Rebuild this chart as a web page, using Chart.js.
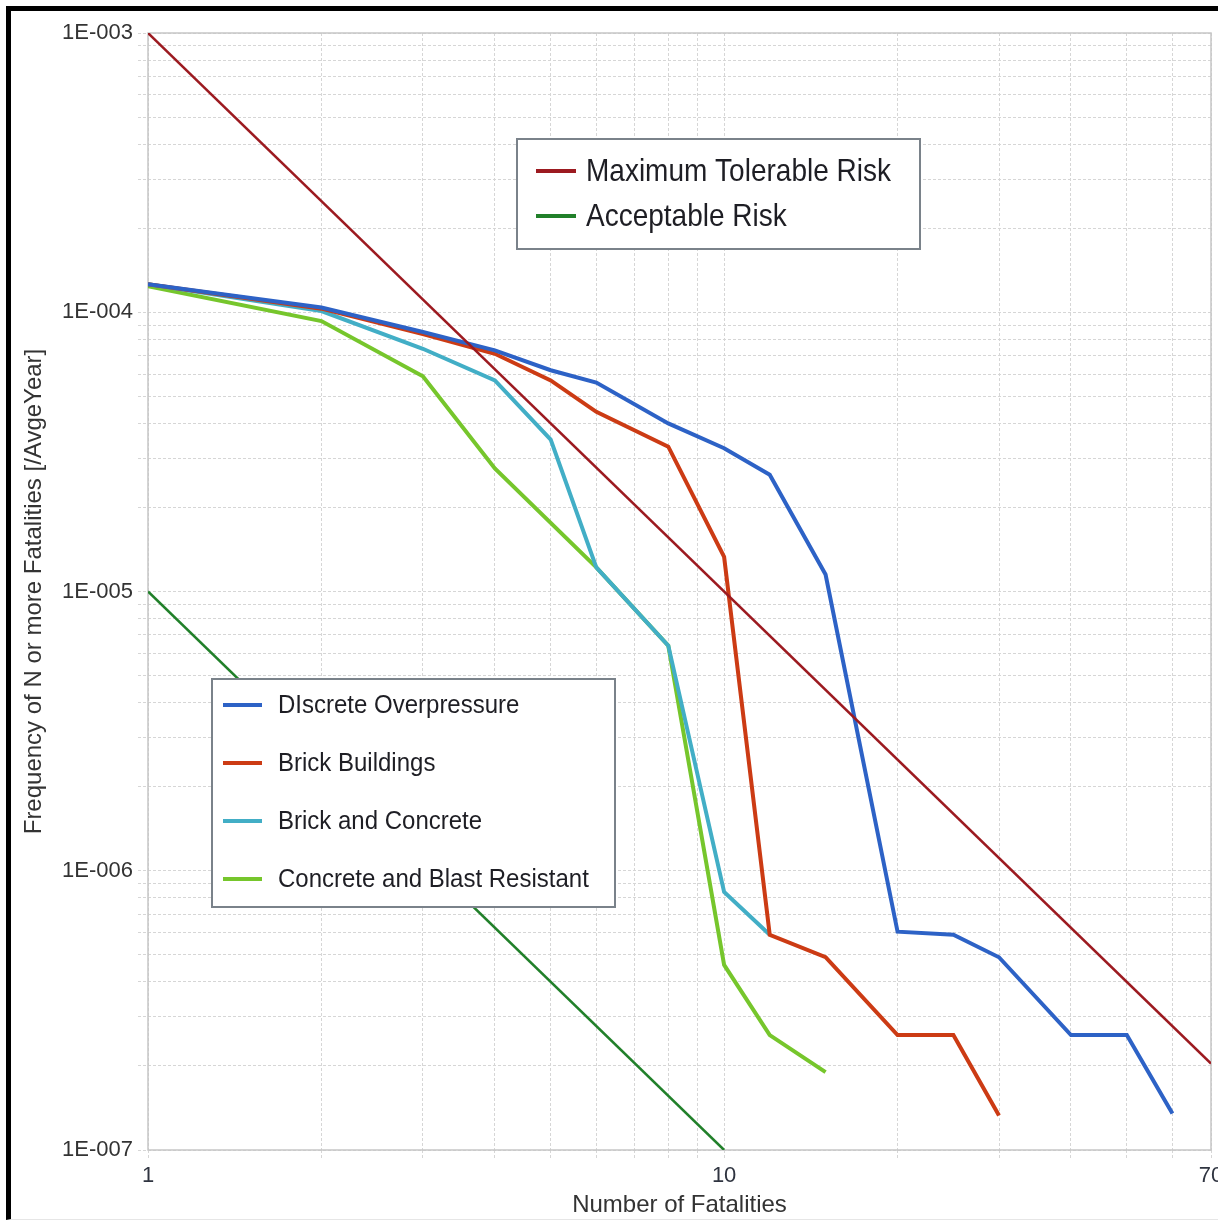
<!DOCTYPE html>
<html>
<head>
<meta charset="utf-8">
<script src="https://cdn.jsdelivr.net/npm/chart.js@4"></script>
<style>
  html, body { margin: 0; padding: 0; background: #fff; }
  #wrap { position: relative; width: 1218px; height: 1220px; overflow: hidden; }
  #frame { position: absolute; left: 6px; top: 6px; width: 1230px; height: 1208px;
           border-left: 5px solid #000; border-top: 5px solid #000; border-bottom: 1px solid #e6e6e6;
           pointer-events: none; }
</style>
</head>
<body>
<div id="wrap">
  <canvas id="fnChart" width="1218" height="1220"></canvas>
  <div id="frame"></div>
</div>
<script>
// F-N curve values (N = number of fatalities, freq per year)
const overpressureN = [1, 2, 3, 4, 5, 6, 8, 10, 12, 15, 20, 25, 30, 40, 50, 60];
const overpressureFreq = [1.26e-4, 1.04e-4, 8.5e-5, 7.3e-5, 6.2e-5, 5.6e-5, 4.0e-5, 3.26e-5, 2.62e-5, 1.15e-5, 6.05e-7, 5.9e-7, 4.9e-7, 2.58e-7, 2.58e-7, 1.35e-7];

const brickN = [1, 2, 3, 4, 5, 6, 8, 10, 12, 15, 20, 25, 30];
const brickFreq = [1.26e-4, 1.03e-4, 8.35e-5, 7.1e-5, 5.7e-5, 4.4e-5, 3.3e-5, 1.33e-5, 5.9e-7, 4.9e-7, 2.58e-7, 2.58e-7, 1.33e-7];

const brickConcreteN = [1, 2, 3, 4, 5, 6, 8, 10, 12];
const brickConcreteFreq = [1.26e-4, 1.01e-4, 7.4e-5, 5.7e-5, 3.5e-5, 1.22e-5, 6.4e-6, 8.4e-7, 5.9e-7];

const blastN = [1, 2, 3, 4, 6, 8, 10, 12, 15];
const blastFreq = [1.24e-4, 9.3e-5, 5.9e-5, 2.76e-5, 1.22e-5, 6.4e-6, 4.6e-7, 2.58e-7, 1.9e-7];

const maxTolerableN = [1, 70];
const maxTolerableFreq = [1e-3, 2.04e-7];
const acceptableN = [1, 10];
const acceptableFreq = [1e-5, 1e-7];

const xTickValues = [1, 10, 70];
const xTickLabels = ['1', '10', '70'];
const yDecades = [1e-7, 1e-6, 1e-5, 1e-4, 1e-3];
const yTickLabels = ['1E-007', '1E-006', '1E-005', '1E-004', '1E-003'];

const FONT = "'Liberation Sans', Arial, sans-serif";

const pts = (xs, ys) => xs.map((x, i) => ({ x: x, y: ys[i] }));

const line = (label, xs, ys, color, width, order) => ({
  label: label,
  data: pts(xs, ys),
  borderColor: color,
  backgroundColor: color,
  borderWidth: width,
  pointRadius: 0,
  tension: 0,
  order: order
});

// grid positions: every 1..9 x 10^k
const xGrid = [];
for (let k = 0; k <= 1; k++) {
  for (let m = 1; m <= 9; m++) {
    const v = m * Math.pow(10, k);
    if (v <= 70) xGrid.push(v);
  }
}
const yGrid = [];
for (let e = -7; e <= -3; e++) {
  for (let m = 1; m <= 9; m++) {
    if (e === -3 && m > 1) break;
    yGrid.push(parseFloat((m * Math.pow(10, e)).toPrecision(6)));
  }
}

const legendGroups = [
  { x: 517, y: 139, w: 403, h: 110, firstY: 171, gap: 45, lx0: 19, lx1: 59, tx: 69, size: 32, squeeze: 0.875,
    labels: ['Maximum Tolerable Risk', 'Acceptable Risk'] },
  { x: 212, y: 679, w: 403, h: 228, firstY: 705, gap: 58, lx0: 11, lx1: 50, tx: 66, size: 25, squeeze: 0.96,
    labels: ['DIscrete Overpressure', 'Brick Buildings', 'Brick and Concrete', 'Concrete and Blast Resistant'] }
];

const boxLegends = {
  id: 'boxLegends',
  beforeDatasetsDraw(chart) {
    const { ctx, chartArea: a } = chart;
    ctx.save();
    ctx.strokeStyle = '#c6c6c6';
    ctx.lineWidth = 1.5;
    ctx.strokeRect(a.left, a.top, a.right - a.left, a.bottom - a.top);
    ctx.restore();
  },
  afterDatasetsDraw(chart) {
    const ctx = chart.ctx;
    legendGroups.forEach(g => {
      ctx.save();
      ctx.fillStyle = '#fff';
      ctx.fillRect(g.x, g.y, g.w, g.h);
      ctx.strokeStyle = '#7a828a';
      ctx.lineWidth = 2;
      ctx.strokeRect(g.x, g.y, g.w, g.h);
      g.labels.forEach((lbl, i) => {
        const ds = chart.data.datasets.find(d => d.label === lbl);
        const y = g.firstY + i * g.gap;
        ctx.strokeStyle = ds.borderColor;
        ctx.lineWidth = 4;
        ctx.beginPath();
        ctx.moveTo(g.x + g.lx0, y);
        ctx.lineTo(g.x + g.lx1, y);
        ctx.stroke();
        // the original legend font is a little narrower than Arial
        ctx.save();
        ctx.translate(g.x + g.tx, y + 1);
        ctx.scale(g.squeeze, 1);
        ctx.fillStyle = '#1e1e24';
        ctx.font = g.size + 'px ' + FONT;
        ctx.textBaseline = 'middle';
        ctx.fillText(lbl, 0, 0);
        ctx.restore();
      });
      ctx.restore();
    });
  }
};

const gridStyle = { color: '#d6d6d6', lineWidth: 1, tickBorderDash: [3, 2], tickColor: '#d6d6d6' };
const dashedBorder = { display: false, dash: [3, 2] };

new Chart(document.getElementById('fnChart').getContext('2d'), {
  type: 'line',
  data: {
    datasets: [
      line('Maximum Tolerable Risk', maxTolerableN, maxTolerableFreq, '#9c1a20', 2.5, 1),
      line('Acceptable Risk', acceptableN, acceptableFreq, '#21802a', 2.5, 2),
      line('DIscrete Overpressure', overpressureN, overpressureFreq, '#2d62c6', 4, 3),
      line('Brick Buildings', brickN, brickFreq, '#cc3b14', 4, 4),
      line('Brick and Concrete', brickConcreteN, brickConcreteFreq, '#42aec6', 4, 5),
      line('Concrete and Blast Resistant', blastN, blastFreq, '#76c62c', 4, 6)
    ]
  },
  options: {
    responsive: false,
    animation: false,
    devicePixelRatio: 1,
    events: [],
    layout: { padding: { left: 10, top: 33, right: 7, bottom: 0 } },
    plugins: { legend: { display: false }, tooltip: { enabled: false } },
    scales: {
      x: {
        type: 'logarithmic',
        min: 1,
        max: 70,
        border: dashedBorder,
        grid: Object.assign({ tickLength: 8 }, gridStyle),
        afterBuildTicks: s => { s.ticks = xGrid.map(v => ({ value: v })); },
        afterFit: s => { s.height = 70; s.paddingLeft = 0; s.paddingRight = 0; },
        ticks: {
          autoSkip: false,
          maxRotation: 0,
          padding: 5,
          color: '#2f3440',
          font: { family: FONT, size: 22 },
          callback: v => {
            const i = xTickValues.indexOf(v);
            return i >= 0 ? xTickLabels[i] : '';
          }
        },
        title: {
          display: true,
          text: 'Number of Fatalities',
          color: '#333',
          font: { family: FONT, size: 24 },
          padding: { top: 0, bottom: 0 }
        }
      },
      y: {
        type: 'logarithmic',
        min: 1e-7,
        max: 1e-3,
        border: dashedBorder,
        grid: Object.assign({ tickLength: 10 }, gridStyle),
        afterBuildTicks: s => { s.ticks = yGrid.map(v => ({ value: v })); },
        afterFit: s => { s.width = 138; s.paddingTop = 0; s.paddingBottom = 0; },
        ticks: {
          autoSkip: false,
          padding: 5,
          color: '#333',
          font: { family: FONT, size: 22 },
          callback: v => {
            const i = yDecades.findIndex(d => Math.abs(Math.log10(d) - Math.log10(v)) < 1e-6);
            return i >= 0 ? yTickLabels[i] : '';
          }
        },
        title: {
          display: true,
          text: 'Frequency of N or more Fatalities [/AvgeYear]',
          color: '#333',
          font: { family: FONT, size: 24 },
          padding: { top: 10, bottom: 0 }
        }
      }
    }
  },
  plugins: [boxLegends]
});
</script>
</body>
</html>
